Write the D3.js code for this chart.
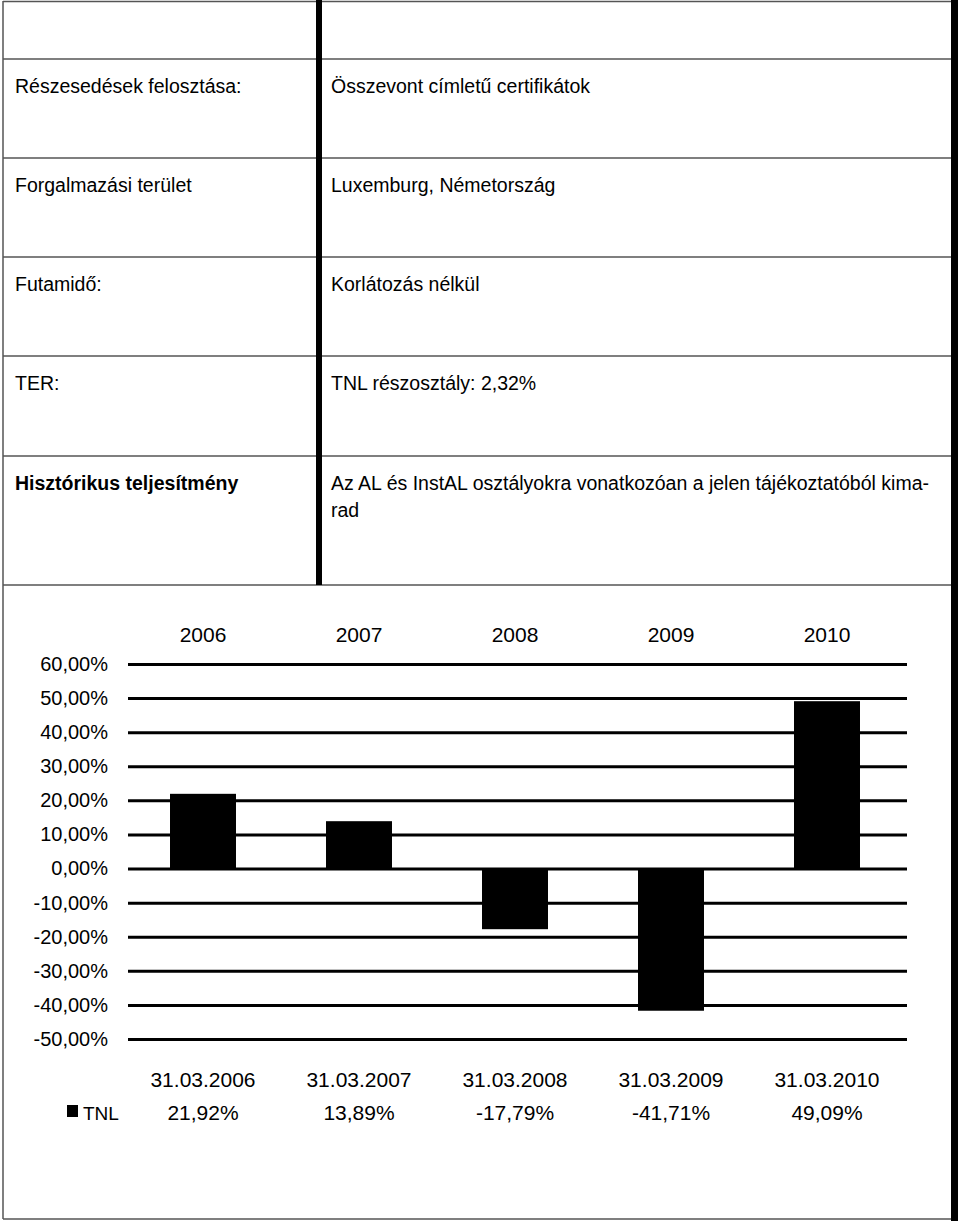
<!DOCTYPE html>
<html>
<head>
<meta charset="utf-8">
<script src="https://cdn.jsdelivr.net/npm/d3@7"></script>
<style>
  body { margin: 0; background: #fff; }
  svg { display: block; }
</style>
</head>
<body>
<script>
// fund info table
const rowLabels = ["Részesedések felosztása:", "Forgalmazási terület", "Futamidő:", "TER:", "Hisztórikus teljesítmény"];
const rowValues = [
    ["Összevont címletű certifikátok"],
    ["Luxemburg, Németország"],
    ["Korlátozás nélkül"],
    ["TNL részosztály: 2,32%"],
    ["Az AL és InstAL osztályokra vonatkozóan a jelen tájékoztatóból kima-", "rad"]
];

// chart data
const years = ["2006", "2007", "2008", "2009", "2010"];
const dates = ["31.03.2006", "31.03.2007", "31.03.2008", "31.03.2009", "31.03.2010"];
const tnl = [21.92, 13.89, -17.79, -41.71, 49.09];
const yTicks = [60, 50, 40, 30, 20, 10, 0, -10, -20, -30, -40, -50];
const seriesName = "TNL";

const width = 960;
const height = 1221;

const svg = d3.select("body")
    .append("svg")
    .attr("width", width)
    .attr("height", height)
    .style("font-family", "'Liberation Sans', Arial, sans-serif");

// ---- table ----
const rowLines = [59, 158, 257, 356, 456, 585];
const gray = "#555";

// outer frame
svg.append("line").attr("x1", 3).attr("x2", 951).attr("y1", 1.5).attr("y2", 1.5)
    .attr("stroke", gray).attr("stroke-width", 1.5);
svg.append("line").attr("x1", 3).attr("x2", 3).attr("y1", 1).attr("y2", 1219)
    .attr("stroke", gray).attr("stroke-width", 1.5);
svg.append("line").attr("x1", 3).attr("x2", 951).attr("y1", 1219).attr("y2", 1219)
    .attr("stroke", gray).attr("stroke-width", 1.5);

svg.selectAll(".rowline")
    .data(rowLines)
    .enter()
    .append("line")
    .attr("class", "rowline")
    .attr("x1", 3)
    .attr("x2", 951)
    .attr("y1", d => d)
    .attr("y2", d => d)
    .attr("stroke", gray)
    .attr("stroke-width", 1.5);

// thick middle divider and right border
svg.append("rect").attr("x", 316).attr("y", 0).attr("width", 6).attr("height", 585).attr("fill", "#000");
svg.append("rect").attr("x", 951).attr("y", 0).attr("width", 7).attr("height", 1221).attr("fill", "#000");

const rowTop = [1].concat(rowLines.slice(0, 5));

svg.selectAll(".rowlabel")
    .data(rowLabels)
    .enter()
    .append("text")
    .attr("class", "rowlabel")
    .attr("x", 15)
    .attr("y", (d, i) => rowLines[i] + 34)
    .style("font-size", "19.5px")
    .style("font-weight", (d, i) => i === 4 ? "bold" : "normal")
    .text(d => d);

rowValues.forEach((lines, i) => {
    svg.selectAll(".rowval" + i)
        .data(lines)
        .enter()
        .append("text")
        .attr("class", "rowval" + i)
        .attr("x", 331)
        .attr("y", (d, j) => rowLines[i] + 34 + j * 27)
        .style("font-size", "19.5px")
        .text(d => d);
});

// ---- chart ----
const gridLeft = 128;
const gridRight = 907;

const x = d3.scaleBand()
    .domain(years)
    .range([125, 905])
    .paddingInner(0.577)
    .paddingOuter(0.2885);

const y = d3.scaleLinear()
    .domain([-50, 60])
    .range([1039, 664]);

// gridlines + labels
const yAxis = svg.append("g")
    .attr("transform", `translate(${gridLeft},0)`)
    .call(d3.axisLeft(y)
        .tickValues(yTicks)
        .tickSize(-(gridRight - gridLeft))
        .tickPadding(20)
        .tickFormat(d => d.toFixed(2).replace(".", ",") + "%"));

yAxis.select(".domain").remove();
yAxis.selectAll(".tick line")
    .attr("stroke", "#000")
    .attr("stroke-width", 3);
yAxis.selectAll(".tick text")
    .attr("fill", "#000")
    .style("font-family", "'Liberation Sans', Arial, sans-serif")
    .style("font-size", "20px");

// year labels on top
const xAxis = svg.append("g")
    .attr("transform", "translate(0,642)")
    .call(d3.axisTop(x).tickSize(0).tickPadding(0));
xAxis.select(".domain").remove();
xAxis.selectAll(".tick text")
    .attr("fill", "#000")
    .style("font-family", "'Liberation Sans', Arial, sans-serif")
    .style("font-size", "21px");

// bars
svg.selectAll(".bar")
    .data(tnl)
    .enter()
    .append("rect")
    .attr("class", "bar")
    .attr("x", (d, i) => x(years[i]))
    .attr("width", x.bandwidth())
    .attr("y", d => y(Math.max(0, d)))
    .attr("height", d => Math.abs(y(d) - y(0)))
    .attr("fill", "#000");

// data table below chart
svg.selectAll(".datelabel")
    .data(dates)
    .enter()
    .append("text")
    .attr("class", "datelabel")
    .attr("x", (d, i) => x(years[i]) + x.bandwidth() / 2)
    .attr("y", 1087)
    .attr("text-anchor", "middle")
    .style("font-size", "21px")
    .text(d => d);

svg.selectAll(".vallabel")
    .data(tnl)
    .enter()
    .append("text")
    .attr("class", "vallabel")
    .attr("x", (d, i) => x(years[i]) + x.bandwidth() / 2)
    .attr("y", 1120)
    .attr("text-anchor", "middle")
    .style("font-size", "21px")
    .text(d => d.toFixed(2).replace(".", ",") + "%");

// legend key
svg.append("rect")
    .attr("x", 67)
    .attr("y", 1105)
    .attr("width", 11)
    .attr("height", 12)
    .attr("fill", "#000");

svg.append("text")
    .attr("x", 83)
    .attr("y", 1120)
    .style("font-size", "19px")
    .text(seriesName);
</script>
</body>
</html>
